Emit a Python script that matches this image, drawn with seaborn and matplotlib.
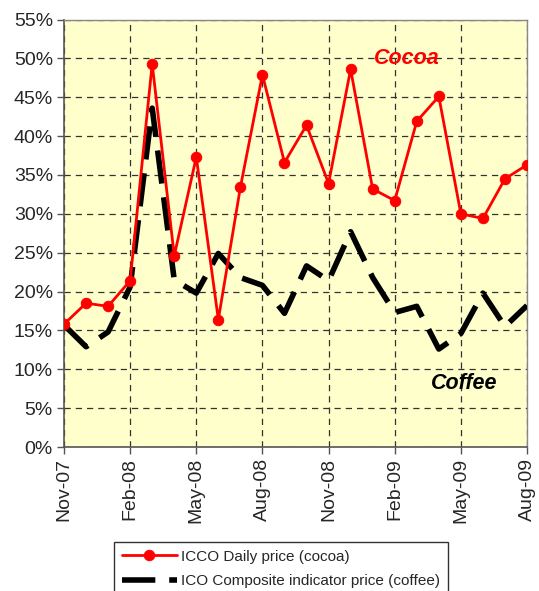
import matplotlib
matplotlib.use("Agg")
import matplotlib.pyplot as plt
import seaborn as sns
import pandas as pd

# monthly price change, Nov-07 .. Aug-09 (%)
months = ["Nov-07", "Dec-07", "Jan-08", "Feb-08", "Mar-08", "Apr-08", "May-08", "Jun-08",
          "Jul-08", "Aug-08", "Sep-08", "Oct-08", "Nov-08", "Dec-08", "Jan-09", "Feb-09",
          "Mar-09", "Apr-09", "May-09", "Jun-09", "Jul-09", "Aug-09"]
cocoa = [15.8, 18.5, 18.1, 21.4, 49.3, 24.6, 37.3, 16.4, 33.4, 47.9, 36.6, 41.4,
         33.9, 48.6, 33.2, 31.7, 41.9, 45.1, 30.0, 29.4, 34.5, 36.3]
coffee = [15.7, 12.9, 14.8, 20.6, 43.6, 21.5, 19.8, 24.9, 21.8, 20.8, 17.2, 23.3,
          21.4, 27.7, 21.8, 17.3, 18.1, 12.6, 14.6, 19.8, 15.5, 18.2]
tick_labels = ["Nov-07", "Feb-08", "May-08", "Aug-08", "Nov-08", "Feb-09", "May-09", "Aug-09"]
y_ticks = list(range(0, 56, 5))

df = pd.DataFrame({"idx": range(len(months)), "month": months,
                   "cocoa": cocoa, "coffee": coffee})

sns.set_style("white")
plt.rcParams["font.family"] = ["Liberation Sans", "DejaVu Sans"]

fig = plt.figure(figsize=(5.39, 5.91), dpi=100)
ax = fig.add_axes([64 / 539, 1 - 447 / 591, (527 - 64) / 539, (447 - 19.5) / 591])
ax.set_facecolor("#FFFFCC")

sns.lineplot(data=df, x="idx", y="coffee", ax=ax, color="black", lw=4,
             dashes=False, label="ICO Composite indicator price (coffee)", zorder=3)
ax.lines[-1].set_dashes((6, 2.5))
sns.lineplot(data=df, x="idx", y="cocoa", ax=ax, color="#FF0000", lw=2,
             marker="o", markersize=7.5, markeredgecolor="#FF0000",
             label="ICCO Daily price (cocoa)", zorder=4)

ax.set_xlim(0, len(months) - 1)
ax.set_ylim(0, 55)
tick_pos = [months.index(m) for m in tick_labels]
ax.set_xticks(tick_pos)
ax.set_xticklabels(tick_labels, rotation=90, fontsize=14)
ax.set_yticks(y_ticks)
ax.set_yticklabels([f"{v}%" for v in y_ticks], fontsize=14)
ax.tick_params(axis="both", length=5, width=1, color="#555555", direction="out",
               bottom=True, left=True, pad=3)
ax.set_xlabel("")
ax.set_ylabel("")

ax.grid(True, color="#333333", lw=0.9, linestyle=(0, (5, 4)))
ax.set_axisbelow(True)
for s in ["top", "right"]:
    ax.spines[s].set_color("#888888")
    ax.spines[s].set_linewidth(1)
for s in ["left", "bottom"]:
    ax.spines[s].set_color("#555555")
    ax.spines[s].set_linewidth(1.2)

ax.text(15.55, 50.0, "Cocoa", color="#FF0000", fontsize=15.5, fontweight="bold",
        fontstyle="italic", ha="center", va="center")
ax.text(18.15, 8.2, "Coffee", color="black", fontsize=15.5, fontweight="bold",
        fontstyle="italic", ha="center", va="center")

handles, labels = ax.get_legend_handles_labels()
ax.get_legend().remove()
order = [1, 0]
leg = fig.legend([handles[i] for i in order], [labels[i] for i in order],
                 loc="upper left", bbox_to_anchor=(114 / 539, 1 - 542 / 591),
                 fontsize=11, frameon=True, fancybox=False, handlelength=3.6,
                 handletextpad=0.3, borderpad=0.5, labelspacing=0.7,
                 borderaxespad=0)
leg.get_frame().set_edgecolor("black")
leg.get_frame().set_linewidth(1)

fig.savefig("out.png", dpi=100)
